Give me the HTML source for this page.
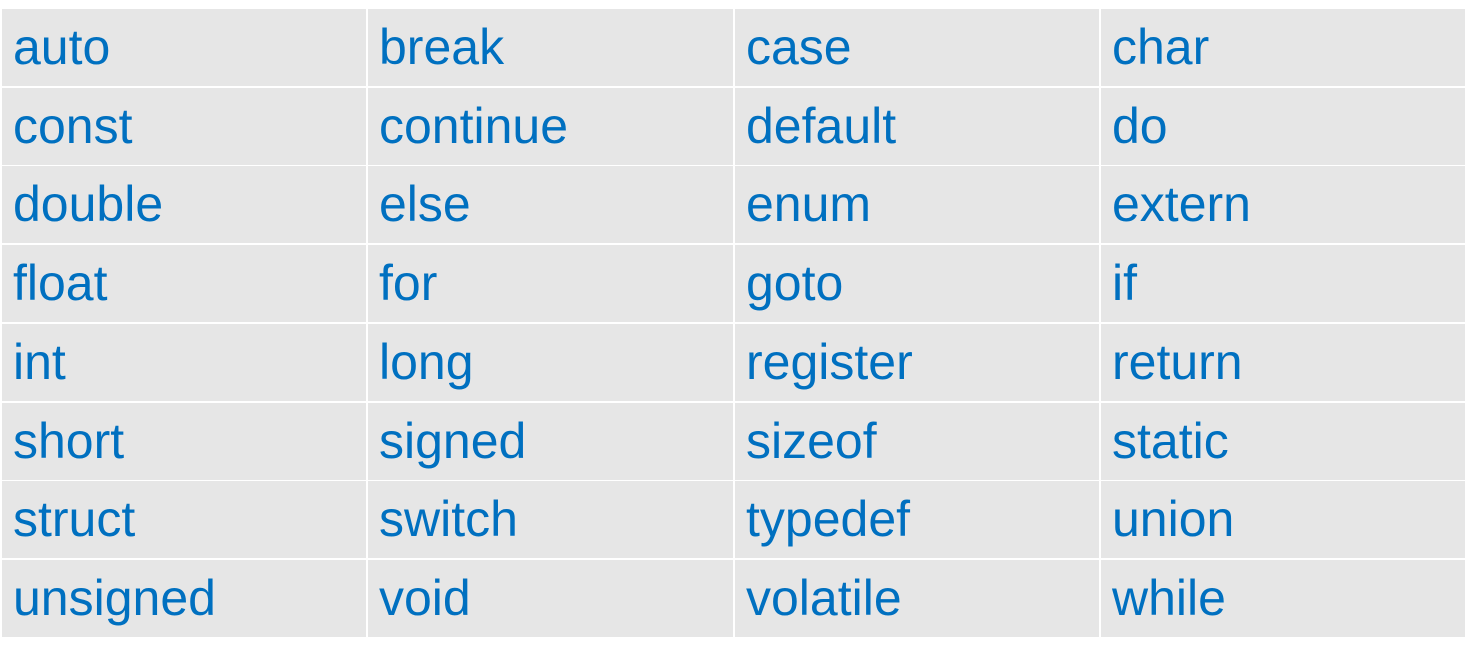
<!DOCTYPE html>
<html><head><style>
body{margin:0;width:1467px;height:658px;background:#fff;position:relative;overflow:hidden;font-family:"Liberation Sans",Arial,sans-serif;}
.c{position:absolute;background:#e6e6e6;height:77px;color:#0070c0;font-size:50px;line-height:77px;padding-left:11px;box-sizing:border-box;}
</style></head><body>
<div id="t"></div>
<script>
var w=[["auto","break","case","char"],["const","continue","default","do"],["double","else","enum","extern"],["float","for","goto","if"],["int","long","register","return"],["short","signed","sizeof","static"],["struct","switch","typedef","union"],["unsigned","void","volatile","while"]];
var xs=[2,368,735,1101],ws=[364,365,364,364];
var h='';
for(var r=0;r<8;r++)for(var c=0;c<4;c++){var y=9+r*78.7;h+='<div class="c" style="left:'+xs[c]+'px;top:'+y.toFixed(1)+'px;width:'+ws[c]+'px">'+w[r][c]+'</div>';}
document.getElementById('t').innerHTML=h;
</script>
</body></html>
